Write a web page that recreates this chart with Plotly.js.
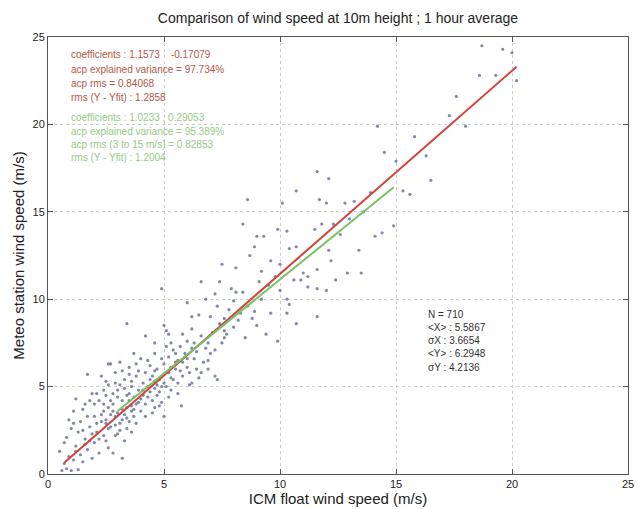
<!DOCTYPE html>
<html>
<head>
<meta charset="utf-8">
<script src="https://cdn.plot.ly/plotly-3.0.1.min.js"></script>
<style>html,body{margin:0;padding:0;background:#fff;}#chart{width:636px;height:509px;}</style>
</head>
<body>
<div id="chart"></div>
<script>
const obsX = [
0.6,0.8,1.0,1.3,0.7,0.9,1.1,0.5,1.4,1.2, 0.8,1.0,1.5,1.7,1.9,1.6,1.3,2.0,2.2,0.9,
1.1,1.8,2.1,2.3,1.4,2.5,2.8,3.2,2.6,1.7, 2.4,2.0,1.2,1.6,2.9,3.1,2.7,3.3,3.6,1.9,
2.2,2.5,2.8,3.0,3.2,3.4,3.0,2.6,2.3,3.5, 3.7,3.9,3.6,3.3,2.9,4.1,4.0,4.3,4.5,3.8,
4.2,4.6,4.8,3.5,3.1,2.7,4.4,4.9,5.1,4.7, 5.0,5.3,5.5,4.0,3.7,5.2,5.6,5.8,4.6,5.4,
3.2,3.5,2.5,2.9,3.8,4.2,4.6,4.9,5.2,3.4, 2.1,2.4,1.8,2.6,3.0,3.3,3.6,3.9,4.2,4.4,
4.7,5.0,5.3,5.6,5.9,6.2,4.5,4.1,3.7,3.4, 2.8,2.4,2.0,3.1,2.7,3.6,4.8,5.5,6.0,6.3,
5.7,6.0,6.4,6.6,6.9,7.1,6.2,5.8,7.4,7.0, 6.5,6.2,7.3,7.6,7.8,5.0,5.1,5.2,4.6,5.3,
5.8,6.1,6.4,6.7,7.0,7.2,7.3,6.8,7.5,7.7, 5.75,5.0,6.2,6.5,4.2,3.4,2.6,1.7,4.9,6.9,
8.0,8.3,8.6,8.0,8.4,8.1,7.4,6.6,7.2,7.9, 8.9,9.2,9.6,10.3,10.4,10.3,10.0,9.1,9.2,8.1,
9.5,8.8,9.0,9.8,10.6,11.0,11.2,10.9,11.6,11.2, 11.6,12.0,10.7,11.6,12.4,12.2,12.9,13.5,8.9,9.0,
9.3,9.9,10.3,10.4,10.7,11.5,12.3,12.1,13.4,14.1, 8.4,11.8,8.6,10.1,11.7,12.0,12.8,10.7,11.6,12.1,
9.6,10.0,8.7,7.6,8.5,9.4,6.0,6.8,7.5,9.9,
13.2,13.9,14.4,14.9,15.3,15.6,16.5,14.5,15.0,16.3, 15.8,14.2,18.0,17.3,17.6,18.6,19.3,20.2,18.7,19.6,
20.0,13.0,13.6,12.6,
2.3,2.6,2.9,3.2,3.5,3.8,4.1,4.4,4.7,5.0, 3.3,3.0,2.7,2.4,3.6,3.9,4.3,4.6,4.9,5.2,
1.5,1.9,2.2,1.6,1.2,2.5,2.8,3.1,3.4,3.7, 4.0,4.3,4.6,4.9,5.4,5.7,6.0,6.3,5.5,5.1,
3.8,3.5,3.2,2.9,2.5,2.1,1.8,1.5,1.1,0.7, 4.5,4.8,5.3,5.6,6.1,6.6,6.9,7.2,7.6,8.2
];
const obsY = [
0.2,0.3,0.2,0.25,0.6,1.0,0.8,1.3,1.1,1.6, 2.1,2.6,0.7,1.4,0.9,2.0,2.4,1.8,1.2,3.1,
3.6,2.7,2.4,3.0,3.0,1.9,1.2,0.9,2.6,3.3, 3.6,3.3,4.3,4.0,2.2,2.9,3.4,1.9,2.4,4.6,
4.2,4.5,4.0,3.5,4.2,3.8,4.8,5.1,5.6,4.6, 3.3,4.1,5.0,5.4,5.8,4.5,3.6,5.0,4.2,5.6,
5.8,5.3,4.7,6.1,6.4,6.3,6.2,5.6,5.0,6.0, 6.3,5.5,6.0,6.6,6.9,6.7,5.2,6.4,6.9,7.1,
3.1,3.0,3.1,2.8,2.9,3.3,3.8,4.1,4.4,2.6, 2.9,2.2,1.9,1.5,2.3,3.4,3.9,4.8,4.0,4.7,
5.1,5.7,6.1,6.5,6.9,7.2,5.6,5.2,4.4,4.5, 4.6,4.0,4.0,5.1,2.7,3.6,5.4,6.4,6.1,6.6,
7.3,7.6,7.0,7.9,7.5,8.1,8.3,8.0,8.6,9.0, 9.1,9.0,9.6,8.9,9.4,8.5,8.2,8.0,7.5,7.5,
5.6,5.8,6.0,6.4,6.9,5.6,5.4,7.2,7.5,8.0, 3.9,3.3,5.2,5.5,7.9,8.6,6.3,5.7,10.6,6.0,
8.4,9.2,9.6,9.9,10.4,10.4,11.0,11.0,10.3,10.6, 9.3,10.0,9.2,9.2,9.7,10.0,10.5,11.0,11.6,11.8,
10.8,8.9,8.5,11.3,11.1,11.5,11.3,11.1,11.7,10.7, 10.6,10.5,8.6,9.0,11.1,12.2,11.5,11.5,13.0,13.6,
13.6,14.0,13.9,12.9,13.0,14.0,14.3,12.8,12.8,13.6, 14.3,14.3,15.7,15.5,15.7,15.5,15.5,16.2,17.3,16.9,
12.2,12.0,12.5,8.2,7.8,8.0,9.8,10.0,12.0,7.6,
15.6,16.1,13.8,14.2,16.2,16.0,16.8,18.4,17.9,18.2, 19.3,19.9,19.9,20.5,21.6,22.8,22.8,22.5,24.5,24.3,
24.1,14.6,15.0,13.7,
3.4,3.8,3.3,3.7,4.2,4.0,4.8,5.4,4.5,5.2, 4.9,4.4,4.2,4.8,5.3,5.9,6.5,5.9,6.6,5.8,
2.5,2.3,2.0,1.7,1.3,2.9,3.6,2.5,3.2,3.7, 4.3,4.4,4.9,5.0,5.4,5.9,6.6,7.5,6.9,7.3,
6.3,5.7,5.9,5.2,5.3,4.6,4.2,3.7,2.9,1.8, 3.5,3.9,4.8,4.6,5.1,5.8,6.5,7.1,7.8,8.8
];

// Fit lines (end points)
const fitAllX = [0.7, 20.2];
const fitAllY = [0.64, 23.3];
const fit315X = [3.0, 14.9];
const fit315Y = [3.6, 16.4];

const redText = [
  "coefficients : 1.1573    -0.17079",
  "acp explained variance = 97.734%",
  "acp rms = 0.84068",
  "rms (Y - Yfit) : 1.2858"
];
const greenText = [
  "coefficients : 1.0233 , 0.29053",
  "acp explained variance = 95.389%",
  "acp rms (3 to 15 m/s) = 0.82853",
  "rms (Y - Yfit) : 1.2004"
];
const statsText = [
  "N = 710",
  "&lt;X&gt; : 5.5867",
  "σX : 3.6654",
  "&lt;Y&gt; : 6.2948",
  "σY : 4.2136"
];
const tickVals = [0, 5, 10, 15, 20, 25];
const tickText = ["0", "5", "10", "15", "20", "25"];

const traces = [
  {x: obsX, y: obsY, type: 'scatter', mode: 'markers',
   marker: {size: 3.2, color: 'rgba(95,108,150,0.8)'}, hoverinfo: 'x+y'},
  {x: fitAllX, y: fitAllY, type: 'scatter', mode: 'lines',
   line: {color: '#d2413b', width: 2}},
  {x: fit315X, y: fit315Y, type: 'scatter', mode: 'lines',
   line: {color: '#79c264', width: 2}}
];

// plot area: 48..628 x 37..474 px
const PW = 580, PH = 437, L = 48, T = 37;
function px(xp) { return (xp - L) / PW; }
function py(yp) { return (T + PH - yp) / PH; }

const annotations = [];
const redY = [55, 69, 83, 97];
redText.forEach((t, i) => annotations.push({xref: 'paper', yref: 'paper', x: px(69), y: py(redY[i]),
  xanchor: 'left', yanchor: 'middle', text: t, showarrow: false,
  font: {family: 'Liberation Sans, Arial, sans-serif', size: 10, color: '#b4584a'}}));
const greenY = [118, 131, 144, 157];
greenText.forEach((t, i) => annotations.push({xref: 'paper', yref: 'paper', x: px(69), y: py(greenY[i]),
  xanchor: 'left', yanchor: 'middle', text: t, showarrow: false,
  font: {family: 'Liberation Sans, Arial, sans-serif', size: 10, color: '#98c987'}}));
const statY = [314, 327, 340, 353, 367];
statsText.forEach((t, i) => annotations.push({xref: 'paper', yref: 'paper', x: px(426), y: py(statY[i]),
  xanchor: 'left', yanchor: 'middle', text: t, showarrow: false,
  font: {family: 'Liberation Sans, Arial, sans-serif', size: 10, color: '#333'}}));

const axisCommon = {
  range: [0, 25], tickvals: tickVals, ticktext: tickText,
  showline: true, mirror: 'ticks', linecolor: '#555', linewidth: 1,
  ticks: 'inside', ticklen: 5, tickcolor: '#555',
  showgrid: true, gridcolor: '#cccccc', griddash: 'dot', gridwidth: 1,
  zeroline: false, tickfont: {family: 'Liberation Sans, Arial, sans-serif', size: 11, color: '#222'},
  fixedrange: true
};

const layout = {
  width: 636, height: 509,
  margin: {l: 48, r: 8, t: 37, b: 35},
  paper_bgcolor: '#fff', plot_bgcolor: '#fff',
  showlegend: false,
  title: {text: 'Comparison of wind speed at 10m height ; 1 hour average',
          x: 0.5, xref: 'paper', y: 1 - 18 / 509, yanchor: 'middle',
          font: {family: 'Liberation Sans, Arial, sans-serif', size: 14, color: '#222'}},
  xaxis: Object.assign({}, axisCommon, {
    title: {text: 'ICM float wind speed (m/s)', standoff: 2,
            font: {family: 'Liberation Sans, Arial, sans-serif', size: 15, color: '#222'}}}),
  yaxis: Object.assign({}, axisCommon, {
    title: {text: 'Meteo station wind speed (m/s)', standoff: 4,
            font: {family: 'Liberation Sans, Arial, sans-serif', size: 15, color: '#222'}}}),
  annotations: annotations
};

Plotly.newPlot('chart', traces, layout, {displayModeBar: false, staticPlot: true});
</script>
</body>
</html>
